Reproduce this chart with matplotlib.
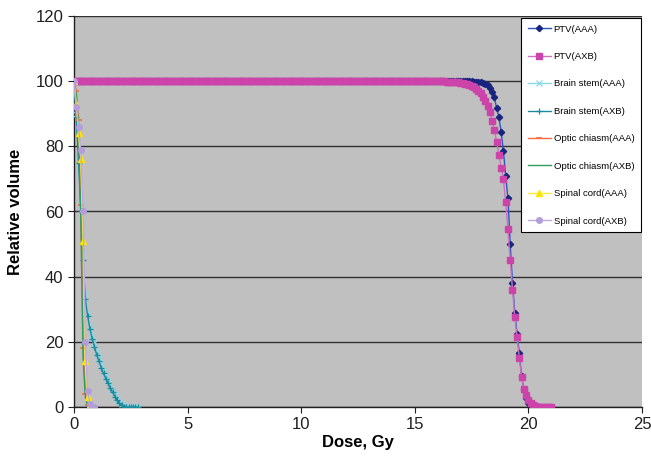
import numpy as np
import matplotlib
matplotlib.use("Agg")
import matplotlib.pyplot as plt

plt.rcParams['font.family'] = ['Liberation Sans', 'DejaVu Sans']

# ---- data ----
# PTV(AAA): 100 % up to 16.9 Gy, then values every 0.1 Gy from 17.0 Gy
ptv_aaa_fall = [100, 100, 100, 100, 99.95, 99.9, 99.85, 99.8, 99.7, 99.6,
                99.5, 99.2, 98.8, 98.0, 96.7, 95.0, 91.8, 89.0, 84.5, 78.5,
                71.0, 64.0, 50.0, 38.0, 29.0, 22.5, 16.5, 9.5, 5.5, 2.7,
                1.2, 0.5, 0.2, 0.05, 0, 0]          # 17.0 .. 20.5 Gy
ptv_aaa = [100] * 170 + ptv_aaa_fall
ptv_aaa_dose = np.round(np.arange(len(ptv_aaa)) * 0.1, 1)

# PTV(AXB): 100 % up to 15.9 Gy, then values every 0.1 Gy from 16.0 Gy
ptv_axb_fall = [100, 100, 99.95, 99.9, 99.85, 99.8, 99.75, 99.7, 99.65, 99.6,
                99.5, 99.35, 99.2, 99.0, 98.7, 98.4, 98.1, 97.6, 97.1, 96.4,
                95.2, 94.0, 92.5, 90.4, 87.8, 85.0, 81.4, 77.3, 73.5, 70.0,
                63.0, 54.5, 45.0, 36.0, 27.5, 21.5, 15.0, 9.3, 5.6, 3.7,
                2.1, 1.1, 0.6, 0.3, 0.15, 0.05, 0, 0, 0, 0, 0]   # 16.0 .. 21.0 Gy
ptv_axb = [100] * 160 + ptv_axb_fall
ptv_axb_dose = np.round(np.arange(len(ptv_axb)) * 0.1, 1)

bs_dose = [0.0, 0.1, 0.2, 0.3, 0.4, 0.5, 0.6, 0.7, 0.8, 0.9, 1.0, 1.1, 1.2, 1.3,
           1.4, 1.5, 1.6, 1.7, 1.8, 1.9, 2.0, 2.1, 2.2, 2.3, 2.4, 2.5, 2.6, 2.7, 2.8]
bs_aaa = [100, 90, 77, 62, 47, 35, 29, 25, 22, 19.5, 17, 15, 13, 11.2,
          9.5, 8.0, 6.5, 5.1, 3.8, 2.6, 1.6, 0.8, 0.3, 0.1, 0, 0, 0, 0, 0]
bs_axb = [100, 89, 75, 60, 45, 33, 28, 24, 21, 18.5, 16, 14, 12, 10.3,
          8.7, 7.3, 5.8, 4.5, 3.2, 2.0, 1.1, 0.5, 0.1, 0, 0, 0, 0, 0, 0]

oc_dose = [0.0, 0.1, 0.2, 0.3, 0.4, 0.5, 0.6, 0.7]
oc_aaa = [100, 97, 88, 62, 18, 4, 0.5, 0]
oc_axb = [100, 96, 86, 58, 15, 3, 0.3, 0]

sc_dose = [0.0, 0.1, 0.2, 0.3, 0.4, 0.5, 0.6, 0.7, 0.8, 0.9]
sc_aaa = [100, 93, 84, 76, 51, 14, 3, 0.5, 0, 0]
sc_axb = [100, 92, 86, 79, 60, 20, 5, 1, 0, 0]

labels = ["PTV(AAA)", "PTV(AXB)", "Brain stem(AAA)", "Brain stem(AXB)",
          "Optic chiasm(AAA)", "Optic chiasm(AXB)", "Spinal cord(AAA)",
          "Spinal cord(AXB)"]

x_ticks = [0, 5, 10, 15, 20, 25]
y_ticks = [0, 20, 40, 60, 80, 100, 120]

# ---- figure ----
W, H = 651, 461
fig = plt.figure(figsize=(W / 100, H / 100), dpi=100)
ax = fig.add_axes([74 / W, 1 - 407 / H, (642 - 74) / W, (407 - 16) / H])
ax.set_facecolor('#C0C0C0')

ax.plot(ptv_aaa_dose, ptv_aaa, color='#2F55C0', lw=1.0, marker='D', ms=3.2,
        mfc='#1A237E', mec='#1A237E', label=labels[0], zorder=3)
ax.plot(ptv_axb_dose, ptv_axb, color='#D070C0', lw=1.0, marker='s', ms=3.8,
        mfc='#CC44AA', mec='#CC44AA', label=labels[1], zorder=4)
ax.plot(bs_dose, bs_aaa, color='#8AD8E8', lw=1.0, marker='x', ms=4,
        mew=0.9, label=labels[2], zorder=3)
ax.plot(bs_dose, bs_axb, color='#1B8A9C', lw=1.0, marker='+', ms=5,
        mew=0.9, label=labels[3], zorder=4)
ax.plot(oc_dose, oc_aaa, color='#FF6A3D', lw=1.0, marker='_', ms=4,
        mew=1.2, label=labels[4], zorder=4)
ax.plot(oc_dose, oc_axb, color='#2E9E5E', lw=1.0, label=labels[5], zorder=4)
ax.plot(sc_dose, sc_aaa, color='#FFEB3B', lw=1.0, marker='^', ms=4.5,
        mfc='#FFE600', mec='#FFE600', label=labels[6], zorder=5)
ax.plot(sc_dose, sc_axb, color='#C0A8E0', lw=1.0, marker='o', ms=4,
        mfc='#B39DDB', mec='#B39DDB', label=labels[7], zorder=5)

ax.set_xlim(0, 25)
ax.set_ylim(0, 120)
ax.set_xticks(x_ticks)
ax.set_yticks(y_ticks)
ax.yaxis.grid(True, color='#303030', lw=1.0)
ax.set_axisbelow(True)
for s in ['top', 'right']:
    ax.spines[s].set_visible(False)
for s in ['left', 'bottom']:
    ax.spines[s].set_color('#202020')
    ax.spines[s].set_linewidth(1.0)
ax.tick_params(axis='both', direction='out', length=4, labelsize=12,
               color='#202020', labelcolor='#202020')
ax.set_xlabel('Dose, Gy', fontsize=12, fontweight='bold', labelpad=2)
ax.set_ylabel('Relative volume', fontsize=12, fontweight='bold', labelpad=9)

leg = ax.legend(loc='upper right', bbox_to_anchor=(641 / W, 1 - 18 / H),
                bbox_transform=fig.transFigure, borderaxespad=0,
                fontsize=6.8, frameon=True, fancybox=False, framealpha=1,
                edgecolor='black', labelspacing=1.95, handlelength=2.45,
                borderpad=0.7, handletextpad=0.3)
leg.get_frame().set_linewidth(0.8)

fig.savefig('out.png', dpi=100)
